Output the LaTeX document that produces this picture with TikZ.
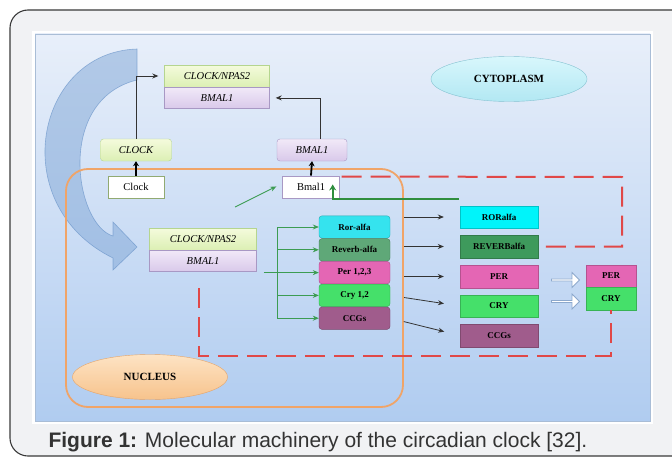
\documentclass[tikz,border=0pt]{standalone}
\usepackage{fontspec}
\setmainfont{Liberation Serif}
\newfontfamily\capfont{Liberation Sans}
\usetikzlibrary{positioning,calc,arrows.meta,shapes.geometric,shapes.arrows}
\definecolor{frameBg}{HTML}{F1F2F4}
\definecolor{frameLine}{HTML}{3A3A3A}
\definecolor{panelTop}{HTML}{E8EFFA}
\definecolor{panelBot}{HTML}{B0CCF0}
\definecolor{panelLine}{HTML}{A9BDD6}
\definecolor{greenTop}{HTML}{F4FBDC}
\definecolor{greenBot}{HTML}{DCEFB4}
\definecolor{greenLine}{HTML}{B5D58F}
\definecolor{lavTop}{HTML}{F1E9F8}
\definecolor{lavBot}{HTML}{D9C9EA}
\definecolor{lavLine}{HTML}{A898C4}
\definecolor{rorC}{HTML}{35E3EE}
\definecolor{revC}{HTML}{5FA878}
\definecolor{perC}{HTML}{E466B4}
\definecolor{cryC}{HTML}{45E06A}
\definecolor{ccgC}{HTML}{A05C8C}
\definecolor{rorPC}{HTML}{00F4FA}
\definecolor{revPC}{HTML}{3E9A5C}
\definecolor{nucTop}{HTML}{FDE3C4}
\definecolor{nucBot}{HTML}{F7C38C}
\definecolor{nucLine}{HTML}{E6A468}
\definecolor{cytTop}{HTML}{D8F7FC}
\definecolor{cytBot}{HTML}{B2E8F3}
\definecolor{cytLine}{HTML}{86C3D2}
\definecolor{nucleusLine}{HTML}{F0A468}
\definecolor{redDash}{HTML}{E04848}
\definecolor{greenArr}{HTML}{3C9C52}
\definecolor{greenFb}{HTML}{2F8E3E}
\definecolor{blueArr}{HTML}{7FA6D6}
\definecolor{blueEdge}{HTML}{5F8CC4}
\definecolor{hollowEdge}{HTML}{8CA8CC}

\begin{document}
\begin{tikzpicture}[x=1pt, y=-1pt,
    gbox/.style={draw=greenLine, top color=greenTop, bottom color=greenBot,
        minimum width=105pt, minimum height=21.5pt, inner sep=0pt,
        font=\fontsize{10.5}{12}\selectfont\itshape},
    lbox/.style={draw=lavLine, top color=lavTop, bottom color=lavBot,
        minimum width=105pt, minimum height=21.5pt, inner sep=0pt,
        font=\fontsize{10.5}{12}\selectfont\itshape},
    wbox/.style={draw, fill=white, minimum height=22.5pt, inner sep=0pt,
        font=\fontsize{10.5}{12}\selectfont},
    gene/.style={draw=#1!75!black, fill=#1, rounded corners=3pt,
        minimum width=71pt, minimum height=22.4pt, inner sep=0pt,
        font=\fontsize{9}{10}\selectfont\bfseries},
    prot/.style={draw=#1!80!black, fill=#1, minimum width=78pt,
        minimum height=22.5pt, inner sep=0pt,
        font=\fontsize{9}{10}\selectfont\bfseries},
    pair/.style={draw=#1!80!black, fill=#1, minimum width=50pt,
        minimum height=22.5pt, inner sep=0pt,
        font=\fontsize{9}{10}\selectfont\bfseries},
    garrow/.style={draw=greenArr, line width=0.9pt, -{Stealth[length=6pt,width=5pt]}},
    barrow/.style={draw=black!80, line width=0.8pt, -{Stealth[length=6pt,width=5pt]}},
    bigarrow/.style={draw=black, line width=1.8pt, -{Stealth[length=5pt,width=6pt]}},
    rdash/.style={draw=redDash, line width=2pt, dash pattern=on 20pt off 9pt},
    hollow/.style={single arrow, draw=hollowEdge, fill=white, line width=0.8pt,
        minimum height=28pt, minimum width=15pt, single arrow head extend=2.5pt,
        inner sep=0pt}]

\useasboundingbox (0,0) rectangle (672,460);
\clip (0,0) rectangle (672,460);

% frame and panel
\draw[frameLine, fill=frameBg, line width=1.1pt, rounded corners=18pt] (10,10) rectangle (690,456);
\fill[white] (32,31) rectangle (653,424);
\shade[top color=panelTop, bottom color=panelBot] (35,34) rectangle (650,421);
\draw[panelLine, line width=0.6pt] (35,34) rectangle (650,421);

% big curved arrow
\filldraw[fill=blueArr, draw=blueEdge, fill opacity=0.5, draw opacity=0.6, line width=0.6pt]
    (137,49) .. controls (35,52) and (5,205) .. (113,258) -- (113,270) -- (137,247)
    -- (113,222) -- (113,236) .. controls (75,225) and (55,100) .. (137,80) -- cycle;

% nucleus
\draw[nucleusLine, line width=1.8pt, rounded corners=22pt] (66,169) rectangle (403,407);

\node[ellipse, draw=nucLine, top color=nucTop, bottom color=nucBot, minimum width=155pt,
    minimum height=45pt, font=\fontsize{11}{12}\selectfont\bfseries] (nuc) at (150,377) {NUCLEUS};
\node[ellipse, draw=cytLine, top color=cytTop, bottom color=cytBot, minimum width=156pt,
    minimum height=45pt, font=\fontsize{11}{12}\selectfont\bfseries] (cyt) at (509,79) {CYTOPLASM};

% complexes
\node[gbox] (cn1) at (217,76) {CLOCK/NPAS2};
\node[lbox, below=0pt of cn1] (bm1) {BMAL1};
\node[gbox, rounded corners=3pt, minimum width=71pt, minimum height=22pt] (clockp) at (136,150) {CLOCK};
\node[wbox, draw=greenLine!80!black, minimum width=56pt] (clockg) at (136,187) {Clock};
\node[lbox, rounded corners=3pt, minimum width=70pt, minimum height=22pt] (bmalp) at (312,150) {BMAL1};
\node[wbox, draw=lavLine, minimum width=57pt] (bmalg) at (311,187) {Bmal1};
\node[gbox, minimum width=107pt] (cn2) at (203,239) {CLOCK/NPAS2};
\node[lbox, minimum width=107pt, below=0pt of cn2] (bm2) {BMAL1};

% target genes
\node[gene=rorC] (ror) at (354.5,227) {Ror-alfa};
\node[gene=revC, below=0pt of ror] (rev) {Reverb-alfa};
\node[gene=perC, below=0pt of rev] (per) {Per 1,2,3};
\node[gene=cryC, below=0pt of per] (cry) {Cry 1,2};
\node[gene=ccgC, below=0pt of cry] (ccg) {CCGs};

% proteins
\node[prot=rorPC] (rorP) at (499,217) {RORalfa};
\node[prot=revPC] (revP) at (499,246.5) {REVERBalfa};
\node[prot=perC] (perP) at (499,276.5) {PER};
\node[prot=cryC] (cryP) at (499,306) {CRY};
\node[prot=ccgC] (ccgP) at (499,335.5) {CCGs};

\node[hollow] (ha1) at (565,280) {};
\node[hollow] (ha2) at (565,301.5) {};
\node[pair=perC] (pc1) at (611,276) {PER};
\node[pair=cryC, below=0pt of pc1] (pc2) {CRY};

% cytoplasm arrows
\draw[barrow, shorten >=6pt] (clockp.north) |- (cn1.west);
\draw[barrow, shorten >=6pt] ($(bmalp.north)+(8,0)$) |- (bm1.east);
\draw[bigarrow] (clockg.north) -- (clockp.south);
\draw[bigarrow] (bmalg.north) -- (bmalp.south);

% green activation
\coordinate (gs) at (235,207);
\coordinate (fk) at (277,0);
\draw[garrow] (gs) -- ($(bmalg.south west)+(-6,-12)$);
\draw[garrow] ($(bm2.east |- per.west)+(7,0)$) -- (per.west);
\draw[draw=greenArr, line width=0.9pt] (fk |- ror.west) -- (fk |- ccg.west);
\foreach \g in {ror,rev,cry,ccg}
    \draw[garrow] (fk |- \g.west) -- (\g.west);

% translation
\draw[barrow, shorten <=14pt, shorten >=16pt] (ror.east |- rorP.west) -- (rorP.west);
\draw[barrow, shorten <=14pt, shorten >=16pt] (rev.east |- revP.west) -- (revP.west);
\draw[barrow, shorten <=14pt, shorten >=16pt] (per.east |- perP.west) -- (perP.west);
\draw[barrow, shorten <=14pt, shorten >=16pt] (cry.east) -- (cryP.west);
\draw[barrow, shorten <=14pt, shorten >=16pt] (ccg.east) -- (ccgP.west);

% feedback loops
\coordinate (fbk) at (459,199);
\coordinate (loopC) at (622,177);
\draw[draw=greenFb, line width=1.8pt, -{Stealth[length=6pt,width=7pt]}] (fbk) -| ($(bmalg.south east)+(-7,-14)$);
\draw[rdash] ($(bmalg.north east)+(2,1)$) -- (loopC) |- ($(revP.east)+(6,0)$);
\coordinate (loopA) at (199,288);
\coordinate (loopB) at (199,356);
\draw[rdash] (loopA) -- (loopB) -| (pc2.south);

% caption
\node[anchor=base west, text=black!80, font=\capfont\fontsize{21}{24}\selectfont] (cap) at (45,447)
    {\textbf{Figure 1:} Molecular machinery of the circadian clock [32].};
\end{tikzpicture}
\end{document}
